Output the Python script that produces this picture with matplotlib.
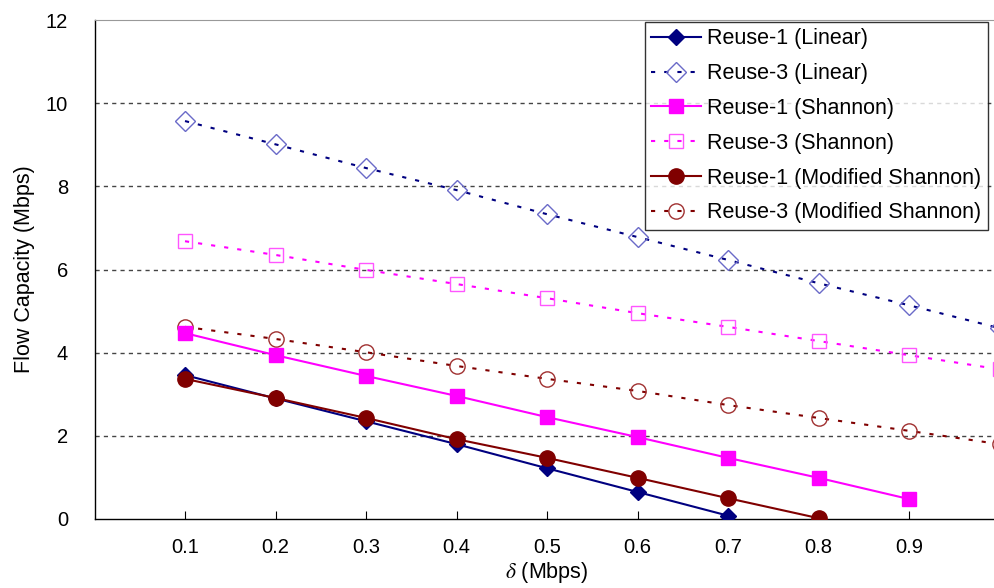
import numpy as np
import matplotlib
matplotlib.use("Agg")
from matplotlib import pyplot as plt

plt.rcParams['font.family'] = ['Liberation Sans', 'DejaVu Sans']
plt.rcParams['mathtext.fontset'] = 'stix'
plt.rcParams['lines.scale_dashes'] = False

delta = [0.1, 0.2, 0.3, 0.4, 0.5, 0.6, 0.7, 0.8, 0.9, 1.0]

r1_linear = [3.46, 2.90, 2.35, 1.80, 1.22, 0.65, 0.08]
r3_linear = [9.57, 9.01, 8.44, 7.91, 7.33, 6.78, 6.23, 5.67, 5.14, 4.59]
r1_shannon = [4.47, 3.94, 3.44, 2.96, 2.45, 1.97, 1.47, 0.99, 0.48]
r3_shannon = [6.68, 6.35, 5.99, 5.65, 5.31, 4.95, 4.62, 4.28, 3.94, 3.60]
r1_mod = [3.37, 2.91, 2.43, 1.92, 1.47, 0.99, 0.50, 0.02]
r3_mod = [4.62, 4.33, 4.01, 3.68, 3.37, 3.08, 2.74, 2.43, 2.12, 1.80]

navy = "#000080"
magenta = "#ff00ff"
darkred = "#800000"
dots = (3, 6.5)

fig = plt.figure(figsize=(9.94, 5.88), dpi=100)
ax = fig.add_axes([94.5/994, 69/588, 905/994, 499/588])

ax.plot(delta[:len(r1_linear)], r1_linear, color=navy, lw=1.5, marker="D",
        ms=8, label="Reuse-1 (Linear)", zorder=4)
ax.plot(delta, r3_linear, color=navy, lw=1.5, dashes=dots, marker="D", ms=10,
        mfc="none", mec="#6a6ac8", mew=1.0, label="Reuse-3 (Linear)", zorder=3)
ax.plot(delta[:len(r1_shannon)], r1_shannon, color=magenta, lw=1.5, marker="s",
        ms=10, label="Reuse-1 (Shannon)", zorder=4)
ax.plot(delta, r3_shannon, color=magenta, lw=1.5, dashes=dots, marker="s", ms=10,
        mfc="none", mec="#ff55ff", mew=1.0, label="Reuse-3 (Shannon)", zorder=3)
ax.plot(delta[:len(r1_mod)], r1_mod, color=darkred, lw=1.5, marker="o",
        ms=11, label="Reuse-1 (Modified Shannon)", zorder=5)
ax.plot(delta, r3_mod, color=darkred, lw=1.5, dashes=dots, marker="o", ms=11,
        mfc="none", mec="#a03030", mew=1.0, label="Reuse-3 (Modified Shannon)", zorder=3)

ax.set_xlim(0, 1)
ax.set_ylim(0, 12)
ax.set_xticks(delta)
ax.set_xticklabels(["0.1", "0.2", "0.3", "0.4", "0.5", "0.6", "0.7", "0.8", "0.9", "1"])
ax.set_yticks([0, 2, 4, 6, 8, 10, 12])
ax.tick_params(axis="x", direction="in", length=6, pad=14, labelsize=14.5)
ax.tick_params(axis="y", direction="in", length=0, pad=19, labelsize=14.5)

for y in [2, 4, 6, 8, 10]:
    ax.axhline(y, color="#444444", lw=1.0, dashes=(3, 3), zorder=1)

ax.spines["top"].set_color("#999999")
ax.spines["right"].set_visible(False)
for s in ["left", "bottom"]:
    ax.spines[s].set_linewidth(1.0)

ax.set_ylabel("Flow Capacity (Mbps)", fontsize=15.5, labelpad=8)
ax.set_xlabel(r"$\delta$ (Mbps)", fontsize=15.5, labelpad=2)

leg = fig.legend(loc="upper left", bbox_to_anchor=(645/994, 566/588), fontsize=15.5,
                 frameon=True, fancybox=False, handlelength=2.3, handletextpad=0.3,
                 labelspacing=0.64, borderpad=0.3, borderaxespad=0)
leg.get_frame().set_edgecolor("black")
leg.get_frame().set_linewidth(1.0)

fig.savefig("out.png", dpi=100)
